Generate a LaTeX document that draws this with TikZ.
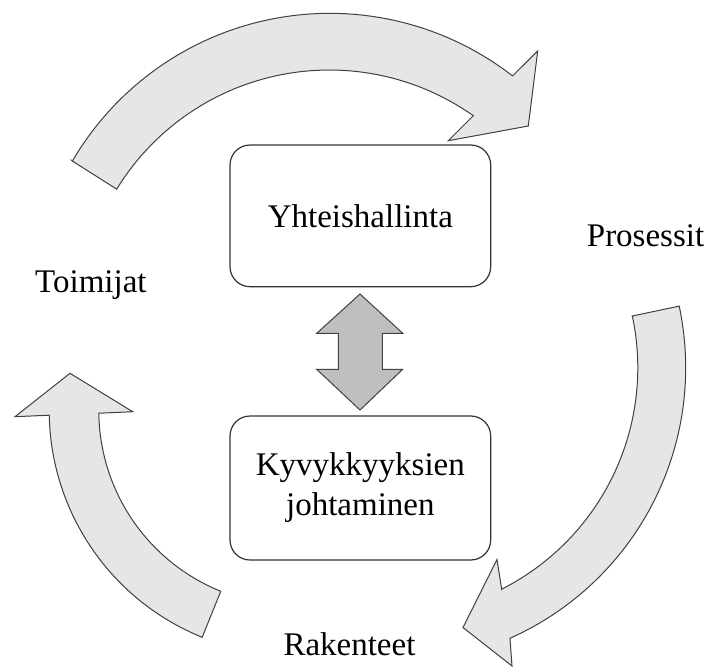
\documentclass[tikz,border=0pt]{standalone}
\usepackage{fontspec}
\setmainfont{Liberation Serif}
\definecolor{arrowfill}{HTML}{E6E6E6}
\definecolor{dblfill}{HTML}{BFBFBF}
\definecolor{edge}{HTML}{404040}
\begin{document}
\begin{tikzpicture}[x=1pt,y=-1pt,
  curved/.style={fill=arrowfill,draw=edge,line width=1pt,line join=miter},
  dblarrow/.style={fill=dblfill,draw=edge,line width=1pt},
  roundbox/.style={draw=black!80,line width=1.2pt,rounded corners=20pt,fill=white,
    align=center,inner sep=0pt,font=\fontsize{33}{40}\selectfont},
  lbl/.style={inner sep=0pt,anchor=base west,font=\fontsize{33}{40}\selectfont}]
\useasboundingbox (0,0) rectangle (710,667);

% top curved arrow
\draw[curved] (72.3,161)
  -- plot[domain=-149.7:-52.2,samples=60] ({329.8+298.2*cos(\x)},{311.5+298.2*sin(\x)})
  -- (537.7,51) -- (528.3,126) -- (448.3,140.7) -- (473.3,115.7)
  -- plot[domain=-54.8:-148.5,samples=60] ({329.4+249.5*cos(\x)},{319.5+249.5*sin(\x)})
  -- cycle;

% right curved arrow
\draw[curved] (632.3,316)
  -- plot[domain=-12:66,samples=60] ({389.5+296.2*cos(\x)},{367.7+296.2*sin(\x)})
  -- (512,666) -- (463,627.5) -- (497,559.5) -- (501.7,589.3)
  -- plot[domain=63.1:-12,samples=60] ({389.5+248.3*cos(\x)},{367.7+248.3*sin(\x)})
  -- cycle;

% left curved arrow
\draw[curved]
  plot[domain=112:178.9,samples=60] ({293.8+244.6*cos(\x)},{410.5+244.6*sin(\x)})
  -- (15,416.7) -- (70,373.3) -- (132.7,411.7)
  -- plot[domain=179.2:112,samples=60] ({293.8+195*cos(\x)},{410.5+195*sin(\x)})
  -- cycle;

% boxes
\node[roundbox,minimum width=260.7pt,minimum height=141.7pt] (gov) at (360.35,215.85) {Yhteishallinta};
\node[roundbox,minimum width=260.7pt,minimum height=144pt] (cap) at (360.35,488) {Kyvykkyyksien\\johtaminen};

% double arrow between boxes
\draw[dblarrow] (360,294) -- (402.7,333.3) -- (382.3,333.3) -- (382.3,369.3) -- (402.7,369.3)
  -- (360,410) -- (316.7,369.3) -- (338.3,369.3) -- (338.3,333.3) -- (316.7,333.3) -- cycle;

% labels
\node[lbl] (toim) at (35,292.7) {Toimijat};
\node[lbl] (pros) at (586.7,246) {Prosessit};
\node[lbl] (rak) at (283.3,655) {Rakenteet};
\end{tikzpicture}
\end{document}
